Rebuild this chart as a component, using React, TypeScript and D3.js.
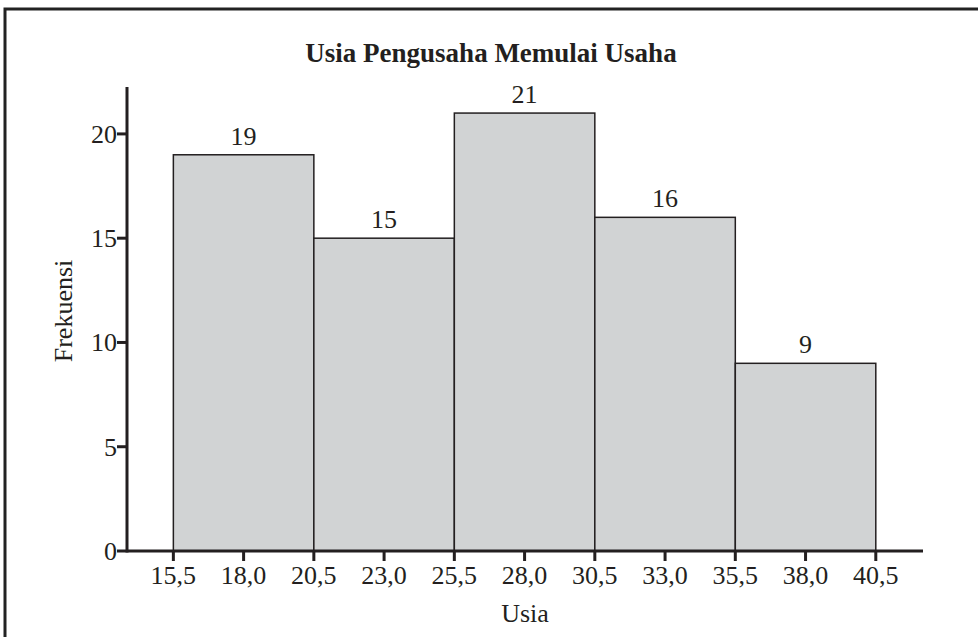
import * as d3 from "d3";

const binEdges = [15.5, 20.5, 25.5, 30.5, 35.5, 40.5];
const frequencies = [19, 15, 21, 16, 9];
const xTickValues = [15.5, 18.0, 20.5, 23.0, 25.5, 28.0, 30.5, 33.0, 35.5, 38.0, 40.5];
const yTickValues = [0, 5, 10, 15, 20];

const title = "Usia Pengusaha Memulai Usaha";
const xLabel = "Usia";
const yLabel = "Frekuensi";

export default function App() {
  const width = 978;
  const height = 637;
  const marginLeft = 127;
  const marginRight = 55;
  const marginTop = 87;
  const marginBottom = 86;
  const ink = "#231f20";
  const font = "'Liberation Serif', 'Times New Roman', serif";

  const x = d3.scaleLinear([13.85, 42.18], [marginLeft, width - marginRight]);
  const y = d3.scaleLinear([0, 22.25], [height - marginBottom, marginTop]);
  const fmt = (v: number) => v.toFixed(1).replace(".", ",");

  const bins = frequencies.map((f, i) => ({ x0: binEdges[i], x1: binEdges[i + 1], f }));
  const y0 = y(0);

  return (
    <div>
      <style>{"body{margin:0}"}</style>
      <svg width={width} height={height} style={{ display: "block", fontFamily: font }}>
        <rect x={0} y={0} width={width} height={height} fill="#fff" />
        <rect x={5} y={9} width={1100} height={800} fill="none" stroke="#222" strokeWidth={3} />
        <text x={491} y={62} textAnchor="middle" fontSize={27} fontWeight="bold" fill={ink}>
          {title}
        </text>

        <g fill="#d1d3d4" stroke={ink} strokeWidth={1.5}>
          {bins.map((b, i) => (
            <rect key={i} x={x(b.x0)} y={y(b.f)} width={x(b.x1) - x(b.x0)} height={y0 - y(b.f)} />
          ))}
        </g>
        <g fontSize={26} fill={ink} textAnchor="middle">
          {bins.map((b, i) => (
            <text key={i} x={(x(b.x0) + x(b.x1)) / 2} y={y(b.f) - 10}>{b.f}</text>
          ))}
        </g>

        {/* axes */}
        <g stroke={ink} strokeWidth={3}>
          <line x1={x.range()[0]} x2={x.range()[1]} y1={y0} y2={y0} />
          <line x1={marginLeft} x2={marginLeft} y1={y.range()[1]} y2={y0 + 1.5} />
          {xTickValues.map((v) => (
            <line key={v} x1={x(v)} x2={x(v)} y1={y0} y2={y0 + 10} />
          ))}
          {yTickValues.map((v) => (
            <line key={v} x1={marginLeft - 10} x2={marginLeft} y1={y(v)} y2={y(v)} />
          ))}
        </g>
        <g fontSize={26} fill={ink}>
          {xTickValues.map((v) => (
            <text key={v} x={x(v)} y={y0 + 33} textAnchor="middle">{fmt(v)}</text>
          ))}
          {yTickValues.map((v) => (
            <text key={v} x={marginLeft - 10} y={y(v) + 9} textAnchor="end">{v}</text>
          ))}
        </g>
        <text x={(x.range()[0] + x.range()[1]) / 2} y={622} textAnchor="middle" fontSize={26} fill={ink}>
          {xLabel}
        </text>
        <text transform={`translate(72,311) rotate(-90)`} textAnchor="middle" fontSize={26} fill={ink}>
          {yLabel}
        </text>
      </svg>
    </div>
  );
}
